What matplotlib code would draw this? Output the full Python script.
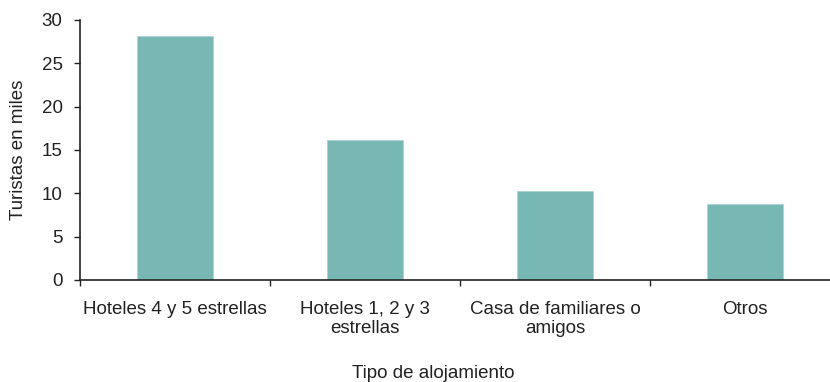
import matplotlib
matplotlib.use("Agg")
import matplotlib.pyplot as plt
import numpy as np

categories = ["Hoteles 4 y 5 estrellas", "Hoteles 1, 2 y 3\nestrellas",
              "Casa de familiares o\namigos", "Otros"]
values = [28.1, 16.1, 10.3, 8.8]
yticks = [0, 5, 10, 15, 20, 25, 30]

plt.rcParams['font.family'] = ['Liberation Sans', 'DejaVu Sans']

W, H = 830, 382
fig = plt.figure(figsize=(W / 100, H / 100), dpi=100)
ax_left, ax_right, ax_top, ax_bottom = 80, 830, 20, 280
ax = fig.add_axes([ax_left / W, 1 - ax_bottom / H,
                   (ax_right - ax_left) / W, (ax_bottom - ax_top) / H])

x = np.arange(len(categories))
ax.bar(x, values, width=0.4, color="#77B8B4", edgecolor="#A9D4D1", linewidth=0.6, zorder=2)

fs = 13.5
ax.set_yticks(yticks)
ax.tick_params(axis='y', direction='out', length=4.3, width=1, labelsize=fs, pad=8.3, colors='#222222')

# category labels at centres, ticks at boundaries
ax.set_xticks(np.arange(len(categories) + 1) - 0.5)
ax.set_xticklabels([])
ax.set_xticks(x, minor=True)
ax.set_xticklabels(categories, minor=True, fontsize=fs, linespacing=1.15)
ax.tick_params(axis='x', which='major', direction='out', length=4.3, width=1, colors='#222222')
ax.tick_params(axis='x', which='minor', length=0, pad=15, labelcolor='#222222')
for lbl in ax.get_xticklabels(minor=True):
    lbl.set_verticalalignment('top')

cat_px = 190
ax.set_xlim(-0.5, -0.5 + (ax_right - ax_left) / cat_px)
ax.set_ylim(0, 30)

for s in ['top', 'right']:
    ax.spines[s].set_visible(False)
for s in ['left', 'bottom']:
    ax.spines[s].set_linewidth(1.2)
    ax.spines[s].set_color('#222222')

ax.set_ylabel("Turistas en miles", fontsize=fs, color='#222222', va='center')
ax.yaxis.set_label_coords((18 - ax_left) / (ax_right - ax_left), 0.5)
ax.set_xlabel("Tipo de alojamiento", fontsize=fs, color='#222222')
ax.xaxis.set_label_coords((433 - ax_left) / (ax_right - ax_left),
                          -(373 - ax_bottom) / (ax_bottom - ax_top))
ax.xaxis.label.set_verticalalignment('center')

fig.savefig("out.png", dpi=100)
